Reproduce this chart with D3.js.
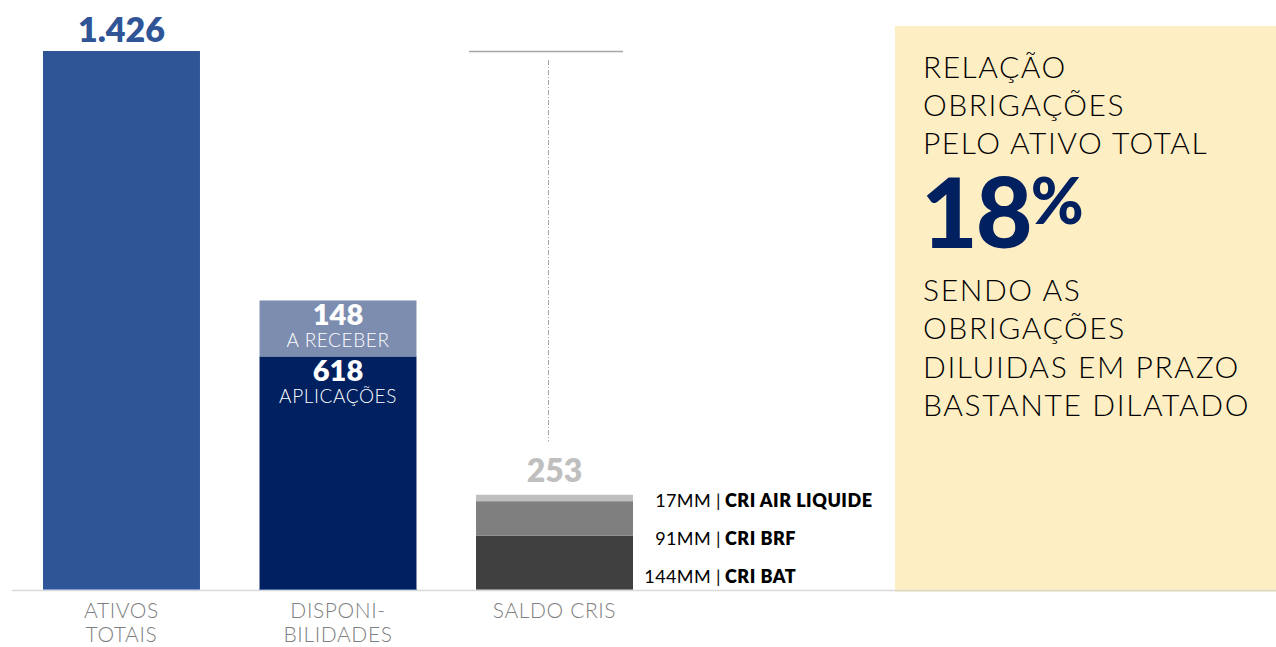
<!DOCTYPE html>
<html>
<head>
<meta charset="utf-8">
<script src="https://cdn.jsdelivr.net/npm/d3@7/dist/d3.min.js"></script>
<style>
  html, body { margin: 0; padding: 0; background: #ffffff; }
  svg { display: block; font-family: Lato, "Noto Sans", sans-serif; }
</style>
</head>
<body>
<svg id="chart" width="1276" height="647"></svg>
<script>
// Categories along the x axis (line breaks split the tick labels)
const categories = ["ATIVOS\nTOTAIS", "DISPONI-\nBILIDADES", "SALDO CRIS"];

// Total assets (R$ MM)
const ativosTotais = [1426];

// Cash split: applications and receivables (R$ MM)
const disponibilidades = [
  { key: "aplicacoes", value: 618, label: "APLICAÇÕES" },
  { key: "receber", value: 148, label: "A RECEBER" }
];

// CRI balances, bottom to top (R$ MM)
const saldoCris = [
  { key: "bat", value: 144, name: "CRI BAT" },
  { key: "brf", value: 91, name: "CRI BRF" },
  { key: "air", value: 17, name: "CRI AIR LIQUIDE" }
];
const saldoCrisTotal = 253;

// Side panel text
const panelTop = ["RELAÇÃO", "OBRIGAÇÕES", "PELO ATIVO TOTAL"];
const panelPct = 18;
const panelBottom = ["SENDO AS", "OBRIGAÇÕES", "DILUIDAS EM PRAZO", "BASTANTE DILATADO"];

const svg = d3.select("#chart");
const baseY = 590;

const x = d3.scaleBand()
  .domain(categories)
  .range([43, 633])
  .paddingInner(0.275)
  .paddingOuter(0);

const y = d3.scaleLinear()
  .domain([0, ativosTotais[0]])
  .range([baseY, 51]);

const fmt = d3.formatLocale({ decimal: ",", thousands: ".", grouping: [3], currency: ["R$", ""] }).format(",d");

// Side panel background
svg.append("rect")
  .attr("x", 895).attr("y", 26)
  .attr("width", 381).attr("height", 566)
  .attr("fill", "#feeec4");

// ---- Bar 1: total assets
const b1 = x(categories[0]);
svg.append("rect")
  .attr("x", b1).attr("y", y(ativosTotais[0]))
  .attr("width", x.bandwidth())
  .attr("height", baseY - y(ativosTotais[0]))
  .attr("fill", "#2f5597");
svg.append("text")
  .attr("x", b1 + x.bandwidth() / 2)
  .attr("y", y(ativosTotais[0]) - 9)
  .attr("text-anchor", "middle")
  .attr("font-size", 34).attr("font-weight", 800)
  .attr("fill", "#2f5597")
  .text(fmt(ativosTotais[0]));

// ---- Bar 2: stacked cash
const b2 = x(categories[1]);
const stack2 = d3.stack().keys(disponibilidades.map(d => d.key))(
  [Object.fromEntries(disponibilidades.map(d => [d.key, d.value]))]
);
const colors2 = { aplicacoes: "#002060", receber: "#7d8db0" };
stack2.forEach((s, i) => {
  const seg = s[0];
  const info = disponibilidades[i];
  svg.append("rect")
    .attr("x", b2).attr("y", y(seg[1]))
    .attr("width", x.bandwidth())
    .attr("height", y(seg[0]) - y(seg[1]))
    .attr("fill", colors2[info.key]);
  const cx = b2 + x.bandwidth() / 2;
  svg.append("text")
    .attr("x", cx).attr("y", y(seg[1]) + 25)
    .attr("text-anchor", "middle")
    .attr("font-size", 29).attr("font-weight", 800)
    .attr("fill", "#ffffff")
    .text(fmt(info.value));
  svg.append("text")
    .attr("x", cx).attr("y", y(seg[1]) + 47)
    .attr("text-anchor", "middle")
    .attr("font-size", 19).attr("font-weight", 300)
    .attr("letter-spacing", 0.6)
    .attr("fill", "#ffffff")
    .text(info.label);
});

// ---- Bar 3: stacked CRI balances
const b3 = x(categories[2]);
const stack3 = d3.stack().keys(saldoCris.map(d => d.key))(
  [Object.fromEntries(saldoCris.map(d => [d.key, d.value]))]
);
const colors3 = { bat: "#404040", brf: "#7f7f7f", air: "#bfbfbf" };
stack3.forEach((s, i) => {
  const seg = s[0];
  svg.append("rect")
    .attr("x", b3).attr("y", y(seg[1]))
    .attr("width", x.bandwidth())
    .attr("height", y(seg[0]) - y(seg[1]))
    .attr("fill", colors3[saldoCris[i].key]);
});
const top3 = y(saldoCrisTotal);
svg.append("text")
  .attr("x", b3 + x.bandwidth() / 2)
  .attr("y", top3 - 12)
  .attr("text-anchor", "middle")
  .attr("font-size", 32).attr("font-weight", 800)
  .attr("fill", "#bfbfbf")
  .text(fmt(saldoCrisTotal));

// CRI legend labels, stacked beside the bar
saldoCris.forEach((d, i) => {
  const ly = baseY - 7 - i * 38;
  svg.append("text")
    .attr("x", 721).attr("y", ly)
    .attr("text-anchor", "end")
    .attr("font-size", 18).attr("font-weight", 400)
    .attr("letter-spacing", 0.4)
    .attr("fill", "#000000")
    .text(d.value + "MM |");
  svg.append("text")
    .attr("x", 725).attr("y", ly)
    .attr("font-size", 18).attr("font-weight", 800)
    .attr("letter-spacing", 0.5)
    .attr("fill", "#000000")
    .text(d.name);
});

// Reference level of total assets and dashed guide down to the CRI total
const refY = y(ativosTotais[0]);
svg.append("line")
  .attr("x1", 469).attr("x2", 623)
  .attr("y1", refY + 0.5).attr("y2", refY + 0.5)
  .attr("stroke", "#a6a6a6").attr("stroke-width", 1.5);
svg.append("line")
  .attr("x1", 548.5).attr("x2", 548.5)
  .attr("y1", refY + 9).attr("y2", top3 - 53)
  .attr("stroke", "#a6a6a6").attr("stroke-width", 1)
  .attr("stroke-dasharray", "5,2,1,2");

// Baseline
svg.append("line")
  .attr("x1", 12).attr("x2", 1276)
  .attr("y1", baseY + 0.5).attr("y2", baseY + 0.5)
  .attr("stroke", "#d9d9d9").attr("stroke-width", 1.5);

// Thin lighter edge at bar bottoms
[[b1, "#7f9ad0"], [b2, "#4a6aa8"], [b3, "#8c8c8c"]].forEach(([bx, c]) => {
  svg.append("line")
    .attr("x1", bx).attr("x2", bx + x.bandwidth())
    .attr("y1", baseY - 0.5).attr("y2", baseY - 0.5)
    .attr("stroke", c).attr("stroke-width", 1);
});

// Category axis
const axis = svg.append("g")
  .attr("transform", `translate(0,${baseY})`)
  .call(d3.axisBottom(x).tickSize(0).tickPadding(0));
axis.select(".domain").remove();
axis.selectAll(".tick text")
  .attr("font-family", "Lato, 'Noto Sans', sans-serif")
  .attr("font-size", 21).attr("font-weight", 300)
  .attr("letter-spacing", 0.6)
  .attr("fill", "#7f7f7f")
  .attr("dy", null).attr("y", 0)
  .each(function(d) {
    const t = d3.select(this);
    t.text(null);
    d.split("\n").forEach((line, i) => {
      t.append("tspan").attr("x", 0).attr("y", 28 + i * 24).text(line);
    });
  });

// Side panel text
const px = 923;
const pTop = svg.append("text")
  .attr("font-size", 30).attr("font-weight", 300)
  .attr("letter-spacing", 1.5)
  .attr("fill", "#000000");
panelTop.forEach((line, i) => {
  pTop.append("tspan").attr("x", px).attr("y", 78 + i * 38).text(line);
});
const pct = svg.append("text")
  .attr("x", px - 2).attr("y", 248)
  .attr("font-size", 98).attr("font-weight", 900)
  .attr("fill", "#002060")
  .attr("letter-spacing", -2);
pct.append("tspan").text(panelPct);
pct.append("tspan").attr("font-size", 64).attr("dy", -24).text("%");
const pBot = svg.append("text")
  .attr("font-size", 30).attr("font-weight", 300)
  .attr("letter-spacing", 1.6)
  .attr("fill", "#000000");
panelBottom.forEach((line, i) => {
  pBot.append("tspan").attr("x", px).attr("y", 301 + i * 38.3).text(line);
});
</script>
</body>
</html>
